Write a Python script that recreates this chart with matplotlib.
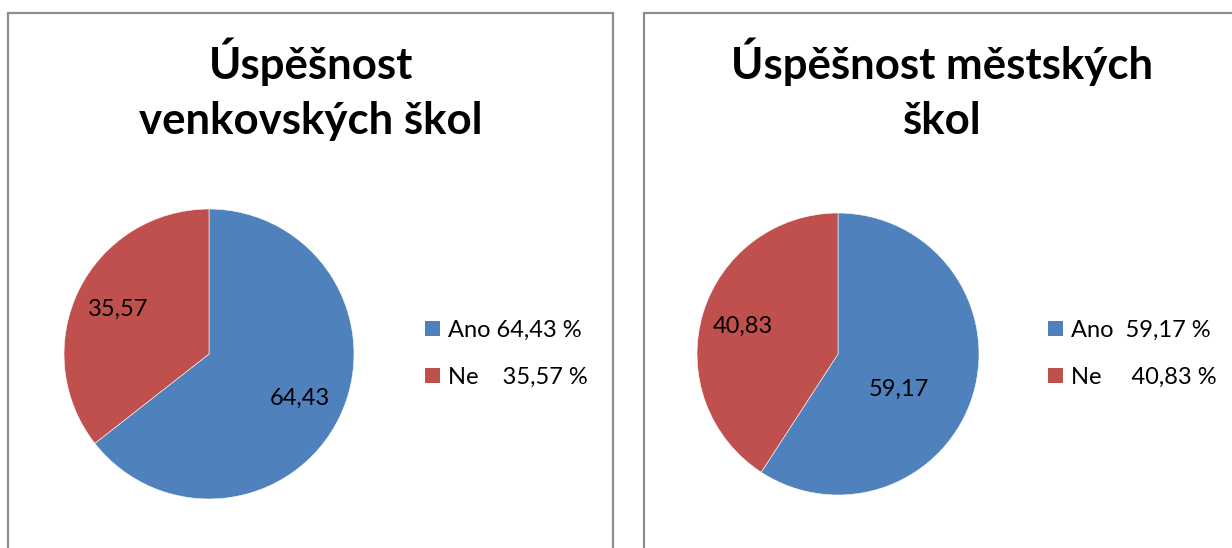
import matplotlib
matplotlib.use("Agg")
import matplotlib.pyplot as plt
from matplotlib.patches import Rectangle, Patch

# data
categories = ["Ano", "Ne"]
venkov = [64.43, 35.57]
mesto = [59.17, 40.83]
titles = ["Úspěšnost\nvenkovských škol", "Úspěšnost městských\nškol"]
legend_venkov = ["Ano 64,43 %", "Ne    35,57 %"]
legend_mesto = ["Ano  59,17 %", "Ne     40,83 %"]

colors = ["#4F81BD", "#C0504D"]
W, H = 1232, 548

plt.rcParams["font.family"] = ["Lato", "DejaVu Sans"]

fig = plt.figure(figsize=(W / 100, H / 100), dpi=100)
fig.patch.set_facecolor("white")


def fx(px):
    return px / W


def fy(py):
    return 1 - py / H


# panel borders
for x0, x1 in [(8, 613), (644, 1300)]:
    fig.patches.append(Rectangle((fx(x0), fy(600)), fx(x1 - x0), (600 - 13) / H,
                                 transform=fig.transFigure, fill=False,
                                 edgecolor="#8c8c8c", linewidth=1.6))


def fmt(pct):
    return f"{pct:.2f}".replace(".", ",")


def draw(values, title, leg_labels, cx, cy, r, title_x, leg_x):
    ax = fig.add_axes([fx(cx - r), fy(cy + r), fx(2 * r), 2 * r / H])
    wedges, texts, autotexts = ax.pie(values, colors=colors, startangle=90, counterclock=False,
                                      autopct=fmt, pctdistance=0.7,
                                      wedgeprops=dict(edgecolor="white", linewidth=0.4),
                                      textprops=dict(fontsize=17, color="black"))
    ax.set_xlim(-1, 1)
    ax.set_ylim(-1, 1)
    fig.text(fx(title_x), fy(38), title, ha="center", va="top", fontsize=31.5,
             fontweight="bold", linespacing=1.45)
    handles = [Patch(facecolor=c) for c in colors]
    ax.legend(handles, leg_labels, loc="center left", bbox_to_anchor=(fx(leg_x), fy(cy)),
              bbox_transform=fig.transFigure, frameon=False, fontsize=17,
              handlelength=0.62, handleheight=0.62, handletextpad=0.35,
              labelspacing=1.1, borderpad=0, borderaxespad=0)
    return autotexts


draw(venkov, titles[0], legend_venkov, 209, 354, 145, 311, 425)
at = draw(mesto, titles[1], legend_mesto, 838, 354, 141, 942, 1048)
at[0].set_position((0.43, -0.25))

fig.savefig("out.png", dpi=100, facecolor="white")
